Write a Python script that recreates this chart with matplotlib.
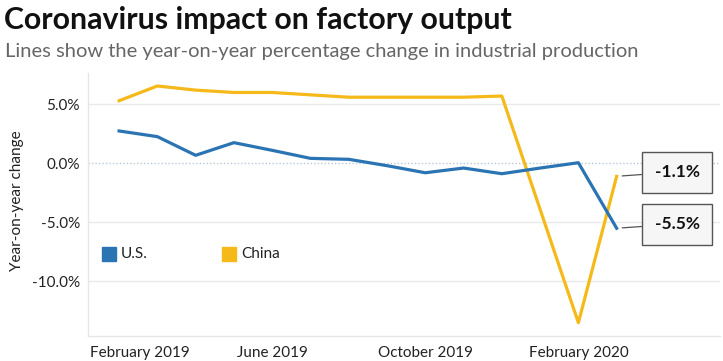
import matplotlib
matplotlib.use("Agg")
import numpy as np
from matplotlib import pyplot as plt
from matplotlib.patches import Rectangle
from matplotlib.transforms import ScaledTranslation

plt.rcParams["font.family"] = ["Lato", "DejaVu Sans"]

# months counted from February 2019 (0) to March 2020 (13)
us_months = list(range(14))
us_values = [2.74, 2.26, 0.68, 1.75, 1.1, 0.42, 0.34, -0.2, -0.8, -0.4, -0.88, -0.4, 0.05, -5.5]

# China reports January and February together, so no January 2020 point
china_months = [0, 1, 2, 3, 4, 5, 6, 7, 8, 9, 10, 12, 13]
china_values = [5.3, 6.55, 6.2, 6.0, 6.0, 5.8, 5.6, 5.6, 5.6, 5.6, 5.7, -13.5, -1.1]

tick_months = [0, 4, 8, 12]
tick_labels = ["February 2019", "June 2019", "October 2019", "February 2020"]
y_ticks = [5, 0, -5, -10]

US_COLOR = "#2b74b3"
CHINA_COLOR = "#f5b919"
W, H = 723, 361

fig = plt.figure(figsize=(W / 100, H / 100), dpi=100)
ax = fig.add_axes([87.7 / W, (H - 335.7) / H, (720 - 87.7) / W, (335.7 - 73) / H])

fig.text(4 / W, 1 - 29.5 / H, "Coronavirus impact on factory output",
         fontsize=21.8, fontweight="bold", color="#111111", va="baseline")
fig.text(5 / W, 1 - 57.3 / H, "Lines show the year-on-year percentage change in industrial production",
         fontsize=14.5, color="#666666", va="baseline")

# grid and zero line
for y in y_ticks:
    if y == 0:
        ax.axhline(y, color="#b8c8d6", lw=1, ls=(0, (1, 1.5)), zorder=1)
    else:
        ax.axhline(y, color="#e9e9e9", lw=1, zorder=1)

ax.plot(china_months, china_values, color=CHINA_COLOR, lw=2.3, zorder=3)
ax.plot(us_months, us_values, color=US_COLOR, lw=2.3, zorder=4)

ax.set_xlim(-0.82, 15.7)
ax.set_ylim(-14.6, 7.65)

for side in ["top", "right"]:
    ax.spines[side].set_visible(False)
for side in ["left", "bottom"]:
    ax.spines[side].set_color("#e6e6e6")
    ax.spines[side].set_linewidth(1)

ax.set_yticks(y_ticks)
ax.set_yticklabels([f"{y:.1f}%" for y in y_ticks])
ax.set_xticks(tick_months)
ax.set_xticklabels(tick_labels)
ax.tick_params(axis="both", length=0, labelsize=11, colors="#222222")
ax.tick_params(axis="y", pad=5.5)
ax.tick_params(axis="x", pad=7.5)
first = ax.get_xticklabels()[0]
first.set_horizontalalignment("left")
first.set_transform(first.get_transform() + ScaledTranslation(-29 / 100, 0, fig.dpi_scale_trans))

ax.set_ylabel("Year-on-year change", fontsize=11, color="#222222")
ax.yaxis.set_label_coords((24 - 87.7) / (720 - 87.7), (335.7 - 201) / (335.7 - 73))

# legend drawn by hand
for (x0, label, color) in [(102, "U.S.", US_COLOR), (222, "China", CHINA_COLOR)]:
    fig.patches.append(Rectangle((x0 / W, 1 - 261 / H), 14 / W, 14 / H,
                                 transform=fig.transFigure, color=color))
    fig.text((x0 + 19) / W, 1 - 254 / H, label, fontsize=11, color="#222222", va="center")

# end-value callouts
callouts = [
    (china_months[-1], china_values[-1], 172),
    (us_months[-1], us_values[-1], 224),
]
for mx, val, ypix in callouts:
    ax.annotate(f"{val:.1f}%", xy=(mx, val), xytext=(677, H - ypix),
                textcoords="figure pixels", ha="center", va="center",
                fontsize=12.5, fontweight="bold", color="#111111",
                bbox=dict(boxstyle="square,pad=0.72", fc="#f6f6f6", ec="#555555", lw=1),
                arrowprops=dict(arrowstyle="-", color="#555555", lw=0.9, shrinkA=0, shrinkB=4))

fig.savefig("out.png", dpi=100)
